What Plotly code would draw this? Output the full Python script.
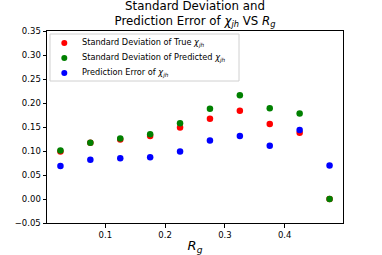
import plotly.graph_objects as go

rg = [0.025, 0.075, 0.125, 0.175, 0.225, 0.275, 0.325, 0.375, 0.425, 0.475]
std_true = [0.099, 0.117, 0.124, 0.131, 0.149, 0.167, 0.184, 0.156, 0.138, 0.0]
std_pred = [0.101, 0.117, 0.126, 0.135, 0.158, 0.188, 0.216, 0.189, 0.178, 0.0]
pred_err = [0.069, 0.082, 0.085, 0.087, 0.099, 0.122, 0.131, 0.111, 0.144, 0.070]

xticks = [0.1, 0.2, 0.3, 0.4]
yticks = [-0.05, 0.0, 0.05, 0.10, 0.15, 0.20, 0.25, 0.30, 0.35]

chi = "<i>χ<sub>jh</sub></i>"
FONT = "DejaVu Sans"
series = [
    (f"Standard Deviation of True {chi}", std_true, "red"),
    (f"Standard Deviation of Predicted {chi}", std_pred, "green"),
    (f"Prediction Error of {chi}", pred_err, "blue"),
]

# plot area in pixels
L, R, T, B = 47, 343, 31, 223
W, H = 382, 255
def px(x): return (x - L) / (R - L)
def py(y): return (B - y) / (B - T)

fig = go.Figure()
for name, vals, col in series:
    fig.add_trace(go.Scatter(x=rg, y=vals, mode="markers", name=name, showlegend=False,
                             marker=dict(color=col, size=6.5, line=dict(width=0))))

axis_common = dict(showgrid=False, zeroline=False, showline=True, linecolor="black",
                   linewidth=1, mirror=True, ticks="outside", ticklen=3.5, automargin=False,
                   tickcolor="black", tickfont=dict(family=FONT, size=8.5, color="black"))

fig.update_xaxes(range=[0.0025, 0.4975], tickvals=xticks,
                 ticktext=[f"{v:.1f}" for v in xticks],
                 title=dict(text="<i>R<sub>g</sub></i>", font=dict(family=FONT, size=13, color="black"), standoff=7),
                 **axis_common)
fig.update_yaxes(range=[-0.05, 0.35], tickvals=yticks,
                 ticktext=[("−" if v < 0 else "") + f"{abs(v):.2f}" for v in yticks],
                 **axis_common)

# legend drawn as box + markers + labels
shapes = [dict(type="rect", xref="paper", yref="paper", x0=px(50), x1=px(239), y0=py(81), y1=py(34),
               line=dict(color="#d0d0d0", width=1), fillcolor="white", layer="above")]
annotations = []
for i, (name, vals, col) in enumerate(series):
    yc = 43 + 15 * i
    shapes.append(dict(type="circle", xref="paper", yref="paper",
                       x0=px(64.3 - 3), x1=px(64.3 + 3), y0=py(yc + 3), y1=py(yc - 3),
                       fillcolor=col, line=dict(width=0), layer="above"))
    annotations.append(dict(text=name, xref="paper", yref="paper", x=px(80), y=py(yc),
                            xanchor="left", yanchor="middle", showarrow=False,
                            font=dict(family=FONT, size=8.2, color="black")))

fig.update_layout(
    width=W, height=H,
    margin=dict(l=L, r=W - R, t=T, b=H - B),
    plot_bgcolor="white", paper_bgcolor="white",
    font=dict(family=FONT, color="black"),
    title=dict(text=f"Standard Deviation and<br>Prediction Error of {chi} VS <i>R<sub>g</sub></i>",
               x=0.5, xanchor="center", xref="paper", y=1 - 9.5 / H, yanchor="top", yref="container",
               font=dict(family=FONT, size=11.8, color="black")),
    shapes=shapes, annotations=annotations,
    showlegend=False,
)

fig.write_html("out.html", config={"displayModeBar": False},
               post_script="document.body.style.margin='0px';")
